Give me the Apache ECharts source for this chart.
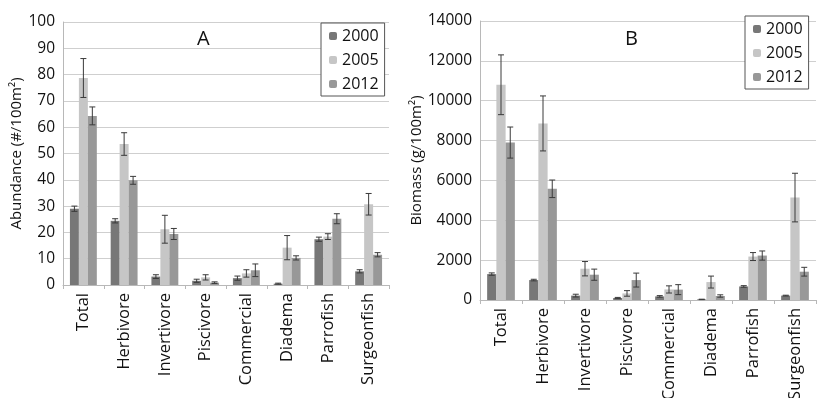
<!DOCTYPE html>
<html>
<head>
<meta charset="utf-8">
<script src="https://cdn.jsdelivr.net/npm/echarts@6/dist/echarts.min.js"></script>
<style>
  html, body { margin: 0; padding: 0; background: #fff; }
  #chart { width: 825px; height: 398px; }
</style>
</head>
<body>
<div id="chart"></div>
<script>
const categories = ['Total', 'Herbivore', 'Invertivore', 'Piscivore', 'Commercial', 'Diadema', 'Parrofish', 'Surgeonfish']
const years = ['2000', '2005', '2012']

// Abundance (#/100m2)
const abund2000 = [29, 24.4, 3.2, 1.6, 2.6, 0.5, 17.4, 5.2]
const abund2005 = [78.7, 53.6, 21.2, 2.9, 4.4, 14.2, 18.4, 30.7]
const abund2012 = [64.3, 39.8, 19.4, 0.9, 5.6, 10.3, 25.2, 11.5]
const abundErr2000 = [1, 0.8, 0.7, 0.6, 0.8, 0.2, 0.8, 0.6]
const abundErr2005 = [7.4, 4.3, 5.3, 1, 1.4, 4.6, 1.1, 4.1]
const abundErr2012 = [3.4, 1.5, 2.1, 0.3, 2.4, 0.8, 1.9, 0.8]

// Biomass (g/100m2)
const bio2000 = [1300, 1000, 220, 100, 180, 30, 680, 220]
const bio2005 = [10800, 8860, 1570, 330, 530, 900, 2180, 5140]
const bio2012 = [7900, 5580, 1270, 1000, 520, 200, 2230, 1420]
const bioErr2000 = [60, 40, 70, 30, 40, 10, 40, 20]
const bioErr2005 = [1500, 1380, 360, 140, 180, 300, 200, 1220]
const bioErr2012 = [780, 440, 280, 350, 250, 60, 230, 220]

const colors = ['#777777', '#c6c6c6', '#989898']
const catGap = 0.34

function errorSeries(idx, vals, errs, k) {
  return {
    type: 'custom',
    xAxisIndex: idx,
    yAxisIndex: idx,
    z: 10,
    data: vals.map((v, i) => [i, v - errs[i], v + errs[i]]),
    renderItem: function (params, api) {
      const catW = api.size([1, 0])[0]
      const barW = catW * (1 - catGap) / 3
      const center = api.coord([api.value(0), 0])[0]
      const x = center + (k - 1) * barW
      const lo = api.coord([api.value(0), api.value(1)])[1]
      const hi = api.coord([api.value(0), api.value(2)])[1]
      const cap = 3
      const st = { stroke: '#3a3a3a', lineWidth: 1 }
      return {
        type: 'group',
        children: [
          { type: 'line', shape: { x1: x, y1: lo, x2: x, y2: hi }, style: st },
          { type: 'line', shape: { x1: x - cap, y1: lo, x2: x + cap, y2: lo }, style: st },
          { type: 'line', shape: { x1: x - cap, y1: hi, x2: x + cap, y2: hi }, style: st }
        ]
      }
    }
  }
}

function barSeries(idx, name, vals, k) {
  return {
    name: name,
    type: 'bar',
    xAxisIndex: idx,
    yAxisIndex: idx,
    data: vals,
    barGap: 0,
    barCategoryGap: (catGap * 100) + '%',
    itemStyle: { color: colors[k] },
    emphasis: { disabled: true }
  }
}

const font = '"Open Sans", "DejaVu Sans", sans-serif'

function xAxis(idx) {
  return {
    type: 'category',
    gridIndex: idx,
    data: categories,
    axisLine: { lineStyle: { color: '#b8b8b8' } },
    axisTick: { show: true, length: 4, lineStyle: { color: '#b8b8b8' } },
    axisLabel: { rotate: 90, color: '#111', fontSize: 16.5, fontFamily: font, margin: 8, interval: 0 }
  }
}

function yAxis(idx, max, interval, name, gap) {
  return {
    type: 'value',
    gridIndex: idx,
    min: 0,
    max: max,
    interval: interval,
    name: name,
    nameLocation: 'middle',
    nameGap: gap,
    nameTextStyle: { color: '#111', fontSize: 15, fontFamily: font },
    axisLine: { show: true, lineStyle: { color: '#b8b8b8' } },
    axisTick: { show: false },
    axisLabel: { color: '#111', fontSize: 15.5, fontFamily: font, margin: 8, formatter: v => String(v) },
    splitLine: { lineStyle: { color: '#cfcfcf', width: 1 } }
  }
}

function legend(left, top) {
  return {
    data: years,
    orient: 'vertical',
    left: left,
    top: top,
    itemWidth: 8,
    itemHeight: 8,
    itemGap: 8,
    padding: [5, 6, 4, 8],
    borderColor: '#555',
    borderWidth: 1,
    backgroundColor: '#fff',
    textStyle: { color: '#111', fontSize: 16, fontFamily: font },
    selectedMode: false
  }
}

const chart = echarts.init(document.getElementById('chart'))
chart.setOption({
  animation: false,
  textStyle: { fontFamily: font },
  title: [
    { text: 'A', left: 192, top: 24, textStyle: { fontSize: 20, fontWeight: 'normal', color: '#111', fontFamily: font } },
    { text: 'B', left: 620, top: 24, textStyle: { fontSize: 20, fontWeight: 'normal', color: '#111', fontFamily: font } }
  ],
  legend: [legend(321, 23), legend(745, 16)],
  grid: [
    { left: 63, right: 436, top: 22, bottom: 113, containLabel: false, outerBoundsMode: 'none' },
    { left: 480, right: 9, top: 21, bottom: 98, containLabel: false, outerBoundsMode: 'none' }
  ],
  xAxis: [xAxis(0), xAxis(1)],
  yAxis: [
    yAxis(0, 100, 10, 'Abundance (#/100m²)', 38),
    yAxis(1, 14000, 2000, 'Biomass (g/100m²)', 48)
  ],
  series: [
    barSeries(0, '2000', abund2000, 0),
    barSeries(0, '2005', abund2005, 1),
    barSeries(0, '2012', abund2012, 2),
    errorSeries(0, abund2000, abundErr2000, 0),
    errorSeries(0, abund2005, abundErr2005, 1),
    errorSeries(0, abund2012, abundErr2012, 2),
    barSeries(1, '2000', bio2000, 0),
    barSeries(1, '2005', bio2005, 1),
    barSeries(1, '2012', bio2012, 2),
    errorSeries(1, bio2000, bioErr2000, 0),
    errorSeries(1, bio2005, bioErr2005, 1),
    errorSeries(1, bio2012, bioErr2012, 2)
  ]
})
</script>
</body>
</html>
